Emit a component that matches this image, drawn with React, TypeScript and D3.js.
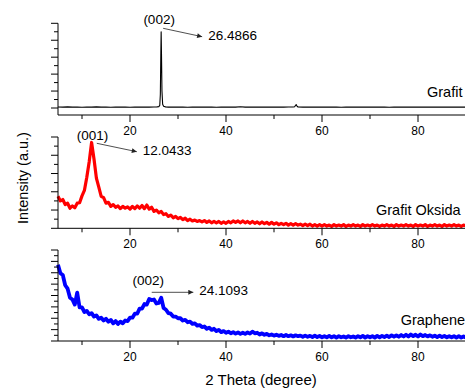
import { useEffect, useRef } from 'react'
import * as d3 from 'd3'

const W = 465
const H = 388

// x axis (2 theta)
const xMajorTicks = [20, 40, 60, 80]
const xMinorTicks = [10, 30, 50, 70, 90]

const seriesNames = ['Grafit', 'Grafit Oksida', 'Graphene']
const seriesColors = ['#000000', '#ff0000', '#0000ff']
const peakLabels = ['(002)', '(001)', '(002)']
const peakPositions = [26.4866, 12.0433, 24.1093]

// Grafit, [2θ, intensity]
const grafit: [number, number][] = [
  [5, 0.12], [6, 0.1], [7, 0.13], [8, 0.1], [9, 0.12], [10, 0.09], [11, 0.12], [12, 0.1],
  [13, 0.13], [14, 0.1], [15, 0.11], [16, 0.09], [17, 0.12], [18, 0.1], [19, 0.12], [20, 0.09],
  [21, 0.11], [22, 0.1], [23, 0.12], [24, 0.1], [25, 0.12], [25.6, 0.13], [26.0, 0.16], [26.2, 0.3],
  [26.32, 1.6], [26.42, 6.2], [26.49, 9.0], [26.56, 6.4], [26.66, 2.0], [26.8, 0.45], [27.0, 0.2],
  [27.4, 0.13], [28, 0.1], [29, 0.12], [30, 0.1], [31, 0.12], [32, 0.09], [33, 0.11], [34, 0.1],
  [35, 0.12], [36, 0.1], [37, 0.11], [38, 0.09], [39, 0.12], [40, 0.1], [41, 0.12], [42, 0.1],
  [43, 0.14], [44, 0.1], [45, 0.12], [46, 0.1], [47, 0.11], [48, 0.1], [49, 0.12], [50, 0.1],
  [51, 0.11], [52, 0.1], [53, 0.12], [54, 0.11], [54.3, 0.14], [54.5, 0.32], [54.62, 0.4],
  [54.75, 0.26], [55, 0.12], [56, 0.1], [57, 0.11], [58, 0.1], [59, 0.12], [60, 0.1], [61, 0.11],
  [62, 0.1], [63, 0.12], [64, 0.09], [65, 0.11], [66, 0.1], [67, 0.12], [68, 0.1], [69, 0.11],
  [70, 0.1], [71, 0.12], [72, 0.1], [73, 0.11], [74, 0.09], [75, 0.12], [76, 0.1], [77, 0.12],
  [78, 0.1], [79, 0.11], [80, 0.1], [81, 0.12], [82, 0.1], [83, 0.11], [84, 0.1], [85, 0.12],
  [86, 0.1], [87, 0.11], [88, 0.1], [89, 0.12], [90, 0.1],
]

// Grafit Oksida, sampled every 0.5° from 5°
const oksidaStart = 5
const oksidaStep = 0.5
const oksida = [
  3.5, 3.0, 3.15, 2.6, 2.75, 2.2, 2.45, 2.25, 2.75, 2.8,
  3.55, 4.15, 5.6, 7.3, 9.4, 7.6, 5.5, 4.5, 3.5, 3.35,
  2.75, 2.85, 2.4, 2.6, 2.3, 2.45, 2.15, 2.4, 2.2, 2.35,
  2.1, 2.4, 2.15, 2.45, 2.2, 2.5, 2.15, 2.55, 2.1, 2.3,
  1.85, 2.0, 1.7, 1.85, 1.5, 1.6, 1.3, 1.45, 1.15, 1.3,
  1.05, 1.2, 0.95, 1.1, 0.85, 1.0, 0.8, 0.9, 0.75, 0.85,
  0.7, 0.85, 0.65, 0.8, 0.6, 0.75, 0.6, 0.75, 0.55, 0.7,
  0.55, 0.75, 0.6, 0.8, 0.65, 0.8, 0.6, 0.8, 0.6, 0.75,
  0.55, 0.75, 0.55, 0.7, 0.5, 0.7, 0.5, 0.65, 0.45, 0.65,
  0.45, 0.6, 0.4, 0.55, 0.4, 0.55, 0.35, 0.5, 0.35, 0.5,
  0.35, 0.45, 0.3, 0.45, 0.3, 0.45, 0.25, 0.4, 0.25, 0.4,
  0.25,
  0.4, 0.25, 0.35, 0.2, 0.4, 0.25, 0.35, 0.25, 0.4, 0.2,
  0.35, 0.25, 0.4, 0.25, 0.35, 0.2, 0.4, 0.25, 0.35, 0.25,
  0.4, 0.25, 0.35, 0.2, 0.35, 0.25, 0.4, 0.25, 0.35, 0.2,
  0.4, 0.25, 0.35, 0.25, 0.4, 0.25, 0.35, 0.2, 0.4, 0.25,
  0.35, 0.25, 0.4, 0.2, 0.35, 0.25, 0.4, 0.25, 0.35, 0.2,
  0.4, 0.25, 0.35, 0.25, 0.4, 0.25, 0.35, 0.2, 0.35, 0.25,
]

// Graphene, sampled every 0.5° from 5°
const grapheneStart = 5
const grapheneStep = 0.5
const graphene = [
  13.4, 11.9, 11.6, 9.8, 9.2, 7.6, 7.3, 6.4, 8.5, 5.9,
  5.9, 5.1, 5.3, 4.7, 4.9, 4.3, 4.5, 3.9, 4.1, 3.6,
  3.9, 3.4, 3.7, 3.1, 3.5, 3.0, 3.4, 3.1, 3.6, 3.5,
  4.1, 4.1, 4.8, 4.8, 5.7, 5.7, 6.5, 6.4, 7.4, 7.2,
  7.3, 6.6, 6.7, 7.6, 5.8, 5.5, 4.9, 4.8, 4.3, 4.3,
  4.0, 4.0, 3.6, 3.7, 3.3, 3.4, 3.0, 3.1, 2.7, 2.8,
  2.45, 2.55, 2.15, 2.35, 1.95, 2.15, 1.75, 1.95, 1.55, 1.75,
  1.45, 1.65, 1.35, 1.55, 1.3, 1.5, 1.25, 1.45, 1.25, 1.5,
  1.3, 1.65, 1.35, 1.45, 1.15, 1.35, 1.1, 1.25, 1.0, 1.15,
  0.95,
  1.1, 0.9, 1.05, 0.85, 1.05, 0.85, 1.0, 0.8, 1.0, 0.85,
  0.95, 0.75, 0.95, 0.75, 0.9, 0.7, 0.95, 0.7, 0.9, 0.65,
  0.85, 0.65, 0.9, 0.65, 0.85, 0.6, 0.85, 0.65, 0.8, 0.6,
  0.85, 0.65, 0.8, 0.6, 0.85, 0.65, 0.9, 0.6, 0.85, 0.65,
  0.85, 0.6, 0.9, 0.65, 0.9, 0.7, 0.95, 0.7, 1.0, 0.75,
  1.0, 0.75, 1.05, 0.8, 1.1, 0.8, 1.15, 0.85, 1.1, 0.8,
  1.15, 0.85, 1.05, 0.8, 1.0, 0.75, 0.95, 0.7, 0.95, 0.7,
  0.9, 0.65, 0.85, 0.65, 0.85, 0.6, 0.85, 0.6, 0.8, 0.6,
]

const FONT = "'Liberation Sans', Arial, sans-serif"

// panel layout (px)
const panels = [
  { top: 23.3, bottom: 115, zero: 108, nTicks: 10, labelX: 427, labelY: 97,
    arrow: { dx0: 2, y0: 28.3, dx1: 41, y1: 36.7 }, hkl: { dx: -2, y: 24 }, valDy: 3.5 },
  { top: 137, bottom: 228.3, zero: 228.3, nTicks: 10, labelX: 376, labelY: 215,
    arrow: { dx0: 5, y0: 143.3, dx1: 45, y1: 151.7 }, hkl: { dx: 0.7, y: 140 }, valDy: 3.5 },
  { top: 250, bottom: 341, zero: 341, nTicks: 16, labelX: 400.7, labelY: 324.7,
    arrow: { dx0: 2, y0: 292.3, dx1: 43.6, y1: 292.3 }, hkl: { dx: -1.4, y: 285 }, valDy: 2.5 },
]

export default function App() {
  const svgRef = useRef<SVGSVGElement | null>(null)

  useEffect(() => {
    if (!svgRef.current) return
    const svg = d3.select(svgRef.current)
    svg.selectAll('*').remove()

    const x = d3.scaleLinear().domain([5, 90]).range([58, 466])

    const defs = svg.append('defs')
    defs.append('marker').attr('id', 'arr').attr('viewBox', '0 0 10 10')
      .attr('refX', 10).attr('refY', 5).attr('markerWidth', 7).attr('markerHeight', 5)
      .attr('markerUnits', 'userSpaceOnUse').attr('orient', 'auto')
      .append('path').attr('d', 'M0,0 L10,5 L0,10 Z').attr('fill', '#222')

    const seriesData: [number, number][][] = [
      grafit,
      oksida.map((v, i) => [oksidaStart + i * oksidaStep, v]),
      graphene.map((v, i) => [grapheneStart + i * grapheneStep, v]),
    ]
    const strokeW = [1.1, 3.2, 3.8]

    panels.forEach((p, pi) => {
      const y = d3.scaleLinear().domain([0, p.nTicks]).range([p.zero, p.top])
      const g = svg.append('g')

      // data
      const line = d3.line<[number, number]>().x(d => x(d[0])).y(d => y(d[1]))
      g.append('path').datum(seriesData[pi]).attr('d', line)
        .attr('fill', 'none').attr('stroke', seriesColors[pi])
        .attr('stroke-width', strokeW[pi]).attr('stroke-linejoin', 'round')

      // y axis
      g.append('line').attr('x1', 58).attr('x2', 58).attr('y1', p.top).attr('y2', p.bottom)
        .attr('stroke', '#000').attr('stroke-width', 1)
      d3.range(0, p.nTicks + 1).forEach(i => {
        const len = i % 2 === 0 ? 7 : 4
        g.append('line').attr('x1', 58 - len).attr('x2', 58)
          .attr('y1', y(i)).attr('y2', y(i)).attr('stroke', '#000').attr('stroke-width', 1)
      })

      // x axis
      g.append('line').attr('x1', 58).attr('x2', 466).attr('y1', p.bottom).attr('y2', p.bottom)
        .attr('stroke', '#000').attr('stroke-width', 1)
      xMajorTicks.forEach(t => {
        g.append('line').attr('x1', x(t)).attr('x2', x(t)).attr('y1', p.bottom).attr('y2', p.bottom + 7)
          .attr('stroke', '#000').attr('stroke-width', 1)
        g.append('text').attr('x', x(t)).attr('y', p.bottom + 20).attr('text-anchor', 'middle')
          .attr('font-size', '12px').attr('font-family', FONT).attr('fill', '#000').text(String(t))
      })
      xMinorTicks.forEach(t => {
        g.append('line').attr('x1', x(t)).attr('x2', x(t)).attr('y1', p.bottom).attr('y2', p.bottom + 4)
          .attr('stroke', '#000').attr('stroke-width', 1)
      })

      // series name
      g.append('text').attr('x', p.labelX).attr('y', p.labelY)
        .attr('font-size', '14.5px').attr('font-family', FONT).attr('fill', '#000')
        .text(seriesNames[pi])

      // peak annotation
      const px = x(peakPositions[pi])
      g.append('text').attr('x', px + p.hkl.dx).attr('y', p.hkl.y).attr('text-anchor', 'middle')
        .attr('font-size', '13.5px').attr('font-family', FONT).attr('fill', '#000')
        .text(peakLabels[pi])
      g.append('line').attr('x1', px + p.arrow.dx0).attr('y1', p.arrow.y0)
        .attr('x2', px + p.arrow.dx1).attr('y2', p.arrow.y1)
        .attr('stroke', '#222').attr('stroke-width', 0.8).attr('marker-end', 'url(#arr)')
      g.append('text').attr('x', px + p.arrow.dx1 + 6).attr('y', p.arrow.y1 + p.valDy)
        .attr('font-size', '13.5px').attr('font-family', FONT).attr('fill', '#000')
        .text(peakPositions[pi].toFixed(4))
    })

    // axis titles
    svg.append('text').attr('transform', 'translate(28,178) rotate(-90)')
      .attr('text-anchor', 'middle').attr('font-size', '14.5px').attr('font-family', FONT)
      .attr('fill', '#000').text('Intensity (a.u.)')
    svg.append('text').attr('x', 261).attr('y', 385).attr('text-anchor', 'middle')
      .attr('font-size', '15px').attr('font-family', FONT).attr('fill', '#000')
      .text('2 Theta (degree)')
  }, [])

  return (
    <svg ref={svgRef} width={W} height={H} viewBox={`0 0 ${W} ${H}`}
      style={{ position: 'absolute', left: 0, top: 0, display: 'block', background: '#fff' }} />
  )
}
